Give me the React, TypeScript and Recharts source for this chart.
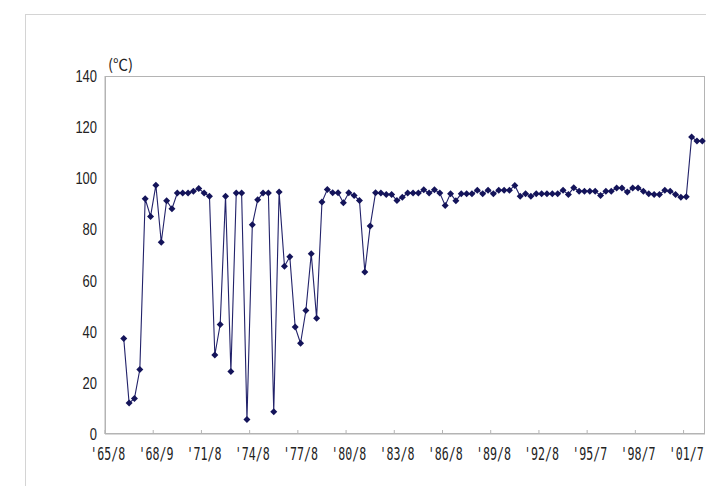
import { LineChart, Line, XAxis, YAxis } from 'recharts';

// page has an 8px body margin by default, the chart is laid out in page pixels
document.body.style.margin = '0';

const tickLabels = [
  "'65/8", "'68/9", "'71/8", "'74/8", "'77/8", "'80/8", "'83/8",
  "'86/8", "'89/8", "'92/8", "'95/7", "'98/7", "'01/7",
];
const LABEL_STEP = 9;

// one value per category, first three categories have no reading
const temps: (number | null)[] = [
  null, null, null,
  37.3, 12.1, 13.9, 25.2, 92.0, 85.1, 97.3, 75.0, 91.2, 88.1,
  94.2, 94.2, 94.2, 94.9, 96.0, 94.2, 93.0, 30.9, 42.8, 93.0,
  24.4, 94.2, 94.2, 5.7, 81.8, 91.6, 94.2, 94.2, 8.7, 94.6,
  65.6, 69.3, 41.8, 35.5, 48.3, 70.5, 45.3, 90.7, 95.6, 94.3,
  94.3, 90.4, 94.3, 93.3, 91.3, 63.4, 81.3, 94.3, 94.2, 93.7,
  93.7, 91.3, 92.6, 94.2, 94.2, 94.2, 95.5, 94.2, 95.5, 94.2,
  89.4, 94.0, 91.2, 94.0, 94.0, 94.0, 95.3, 94.0, 95.3, 94.0,
  95.3, 95.3, 95.3, 97.2, 93.0, 94.0, 93.0, 94.0, 94.0, 94.0,
  94.0, 94.0, 95.3, 93.7, 96.3, 94.9, 94.9, 94.9, 94.9, 93.3,
  94.9, 94.9, 96.2, 96.2, 94.6, 96.2, 96.2, 94.9, 94.0, 93.7,
  93.7, 95.3, 94.9, 93.7, 92.6, 92.8, 116.1, 114.6, 114.6,
];

const yTicks = [0, 20, 40, 60, 80, 100, 120, 140];

const data = temps.map((t, i) => ({ cat: i, temp: t }));

const W = 706;
const H = 486;
const PLOT_LEFT = 105;
const PLOT_TOP = 76;
const PLOT_W = 600;
const PLOT_H = 358;
const BAND = PLOT_W / temps.length;

const AXIS_GREY = '#b4b4b4';
const NAVY = '#14145a';

const XTick = ({ x, y, payload }: any) => {
  const label = tickLabels[payload.value / LABEL_STEP];
  if (label === undefined) return null;
  return (
    <g>
      <line x1={x - BAND / 2} x2={x - BAND / 2} y1={y} y2={y - 4} stroke={AXIS_GREY} />
      <text
        x={x}
        y={y + 26}
        textAnchor="middle"
        fontFamily="'DejaVu Sans Mono', monospace"
        fontSize={17}
        textLength={35}
        lengthAdjust="spacingAndGlyphs"
        fill="#222"
      >
        {label}
      </text>
    </g>
  );
};

const YTick = ({ x, y, payload }: any) => {
  const s = String(payload.value);
  return (
    <text
      x={x}
      y={y}
      dy={6}
      textAnchor="end"
      fontFamily="'Liberation Sans', Arial, sans-serif"
      fontSize={16}
      textLength={s.length * 7.2}
      lengthAdjust="spacingAndGlyphs"
      fill="#222"
    >
      {s}
    </text>
  );
};

const Diamond = ({ cx, cy, index }: any) => {
  if (cx == null || cy == null) return <g key={`d-${index}`} />;
  const r = 3.5;
  return (
    <polygon
      key={`d-${index}`}
      points={`${cx},${cy - r} ${cx + r},${cy} ${cx},${cy + r} ${cx - r},${cy}`}
      fill={NAVY}
    />
  );
};

export default function App() {
  return (
    <div style={{ position: 'relative', width: W, height: H, overflow: 'hidden', background: '#fff' }}>
      {/* outer chart area frame */}
      <div
        style={{
          position: 'absolute',
          left: 25,
          top: 14,
          width: W,
          height: H,
          borderLeft: '1px solid #d4d4d4',
          borderTop: '1px solid #d4d4d4',
        }}
      />
      {/* plot area frame */}
      <div
        style={{
          position: 'absolute',
          left: PLOT_LEFT,
          top: PLOT_TOP,
          width: PLOT_W,
          height: PLOT_H,
          border: `1px solid ${AXIS_GREY}`,
          boxSizing: 'border-box',
        }}
      />
      <span
        style={{
          position: 'absolute',
          left: 108,
          top: 56,
          fontFamily: "'Noto Sans CJK JP', sans-serif",
          fontSize: 15,
          lineHeight: 1,
          color: '#222',
        }}
      >
        (℃)
      </span>
      <div style={{ position: 'absolute', left: 0, top: 0 }}>
        <LineChart
          width={W}
          height={H}
          data={data}
          margin={{ top: PLOT_TOP, right: W - PLOT_LEFT - PLOT_W, bottom: 22, left: 0 }}
        >
          <XAxis
            dataKey="cat"
            scale="band"
            interval={LABEL_STEP - 1}
            height={H - PLOT_TOP - PLOT_H - 22}
            tickSize={0}
            tickMargin={0}
            tickLine={false}
            axisLine={{ stroke: AXIS_GREY }}
            tick={XTick}
          />
          <YAxis
            width={PLOT_LEFT}
            domain={[0, 140]}
            ticks={yTicks}
            tickLine={false}
            axisLine={{ stroke: AXIS_GREY }}
            tick={YTick}
          />
          <Line
            dataKey="temp"
            stroke="#22226a"
            strokeWidth={1.1}
            dot={Diamond}
            activeDot={false}
            isAnimationActive={false}
          />
        </LineChart>
      </div>
    </div>
  );
}
